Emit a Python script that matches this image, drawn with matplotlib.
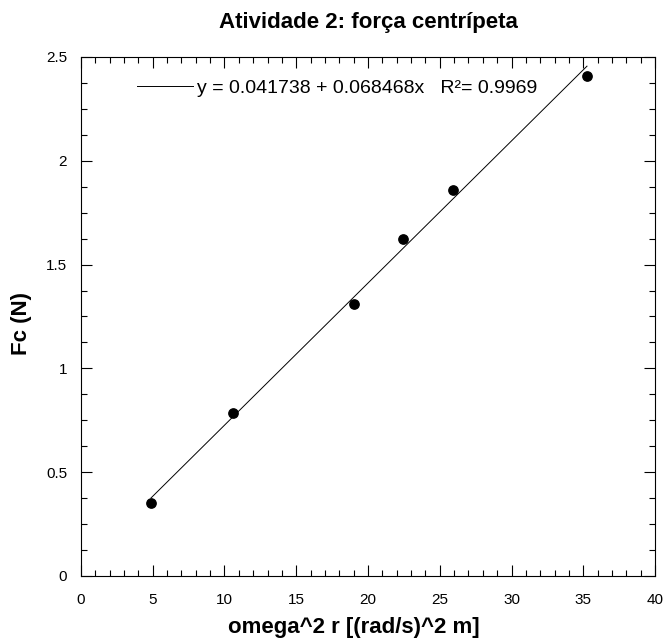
import numpy as np
import matplotlib as mpl
import matplotlib.pyplot as plt
from matplotlib.ticker import MultipleLocator

mpl.rcParams['font.family'] = ['Liberation Sans', 'DejaVu Sans']

# measured points
omega2_r = [4.88, 10.59, 19.02, 22.44, 25.92, 35.26]
fc_newton = [0.352, 0.785, 1.310, 1.623, 1.859, 2.408]

# fit reported on the chart
fit_a = 0.041738
fit_b = 0.068468
fit_r2 = 0.9969

fig = plt.figure(figsize=(6.66, 6.39), dpi=100)
ax = fig.add_axes([0.1216, 0.0986, 0.8619, 0.8122])

x_fit = np.array([min(omega2_r), max(omega2_r)])
y_fit = fit_a + fit_b * x_fit
ax.plot(x_fit, y_fit, color='black', lw=0.7,
        label='y = %.6f + %.6fx   R\u00b2= %.4f' % (fit_a, fit_b, fit_r2))
ax.scatter(omega2_r, fc_newton, s=45, color='black', zorder=3)

ax.set_xlim(0, 40)
ax.set_ylim(0, 2.5)
ax.xaxis.set_minor_locator(MultipleLocator(1))
ax.yaxis.set_minor_locator(MultipleLocator(0.125))
ax.set_xticks(np.arange(0, 41, 5))
ax.set_xticklabels([str(v) for v in range(0, 41, 5)])
ax.set_yticks([0, 0.5, 1, 1.5, 2, 2.5])
ax.set_yticklabels(['0', '0.5', '1', '1.5', '2', '2.5'])
ax.tick_params(which='both', direction='in', top=True, right=True, labelsize=11, width=0.8)
ax.tick_params(which='major', length=8)
ax.tick_params(which='minor', length=4)
ax.tick_params(axis='x', pad=12)
ax.tick_params(axis='y', pad=10)
for s in ax.spines.values():
    s.set_linewidth(0.8)

ax.set_xlabel('omega^2 r [(rad/s)^2 m]', fontsize=16, fontweight='bold')
ax.xaxis.set_label_coords(0.476, -0.079)
ax.set_ylabel('Fc (N)', fontsize=16, fontweight='bold')
ax.yaxis.set_label_coords(-0.086, 0.487)
ax.set_title('Atividade 2: força centrípeta', fontsize=16, fontweight='bold', pad=21)

ax.legend(loc='center left', bbox_to_anchor=(0.0976, 0.94), frameon=False,
          fontsize=14, handlelength=2.9, handletextpad=0.2, borderpad=0, borderaxespad=0)

plt.savefig('out.png', dpi=100)
